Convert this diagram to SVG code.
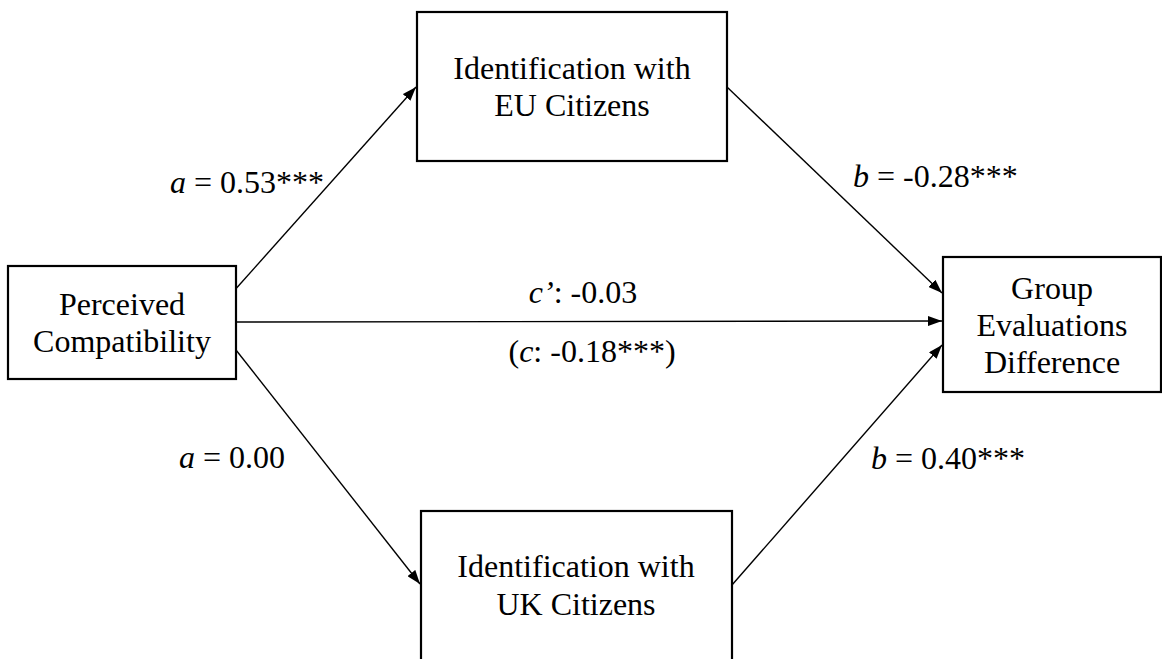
<svg xmlns="http://www.w3.org/2000/svg" width="1162" height="659" viewBox="0 0 1162 659">
  <style>
    .box { fill: #ffffff; stroke: #000000; stroke-width: 2.2; }
    .lbl { font-family: "Liberation Serif", "Times New Roman", serif; font-size: 32px; fill: #000000; }
    .mid { text-anchor: middle; }
    .edge { stroke: #000000; stroke-width: 1.4; fill: none; marker-end: url(#arrow); }
    .it { font-style: italic; }
  </style>
  <defs>
    <marker id="arrow" viewBox="0 0 14 10" refX="14" refY="5" markerWidth="14" markerHeight="10" markerUnits="userSpaceOnUse" orient="auto">
      <path d="M0,0 L14,5 L0,10 Z" fill="#000000"/>
    </marker>
  </defs>

  <rect width="1162" height="659" fill="#ffffff"/>

  <!-- paths between the variables -->
  <g id="connectors">
    <line class="edge" x1="233" y1="292" x2="416" y2="87"/>
    <line class="edge" x1="727" y1="87" x2="942" y2="293"/>
    <line class="edge" x1="236" y1="322" x2="942" y2="321"/>
    <line class="edge" x1="236" y1="350" x2="420" y2="584"/>
    <line class="edge" x1="732" y1="585" x2="942" y2="345"/>
  </g>

  <!-- path coefficients -->
  <g id="coefficients" class="lbl">
    <text x="170" y="193"><tspan class="it">a</tspan> = 0.53***</text>
    <text x="853" y="187"><tspan class="it">b</tspan> = -0.28***</text>
    <text class="mid" x="583" y="303"><tspan class="it">c’</tspan>: -0.03</text>
    <text class="mid" x="592" y="362">(<tspan class="it">c</tspan>: -0.18***)</text>
    <text x="179" y="468"><tspan class="it">a</tspan> = 0.00</text>
    <text x="871" y="469"><tspan class="it">b</tspan> = 0.40***</text>
  </g>

  <g id="node-perceived">
    <rect class="box" x="8" y="266" width="228" height="113"/>
    <text class="lbl mid" x="122" y="315">Perceived</text>
    <text class="lbl mid" x="122" y="352">Compatibility</text>
  </g>

  <g id="node-eu">
    <rect class="box" x="417" y="12" width="310" height="149"/>
    <text class="lbl mid" x="572" y="79">Identification with</text>
    <text class="lbl mid" x="572" y="116">EU Citizens</text>
  </g>

  <g id="node-uk">
    <rect class="box" x="421" y="511" width="311" height="170"/>
    <text class="lbl mid" x="576" y="577">Identification with</text>
    <text class="lbl mid" x="576" y="615">UK Citizens</text>
  </g>

  <g id="node-group">
    <rect class="box" x="943" y="257" width="218" height="135"/>
    <text class="lbl mid" x="1052" y="299">Group</text>
    <text class="lbl mid" x="1052" y="336">Evaluations</text>
    <text class="lbl mid" x="1052" y="373">Difference</text>
  </g>
</svg>
